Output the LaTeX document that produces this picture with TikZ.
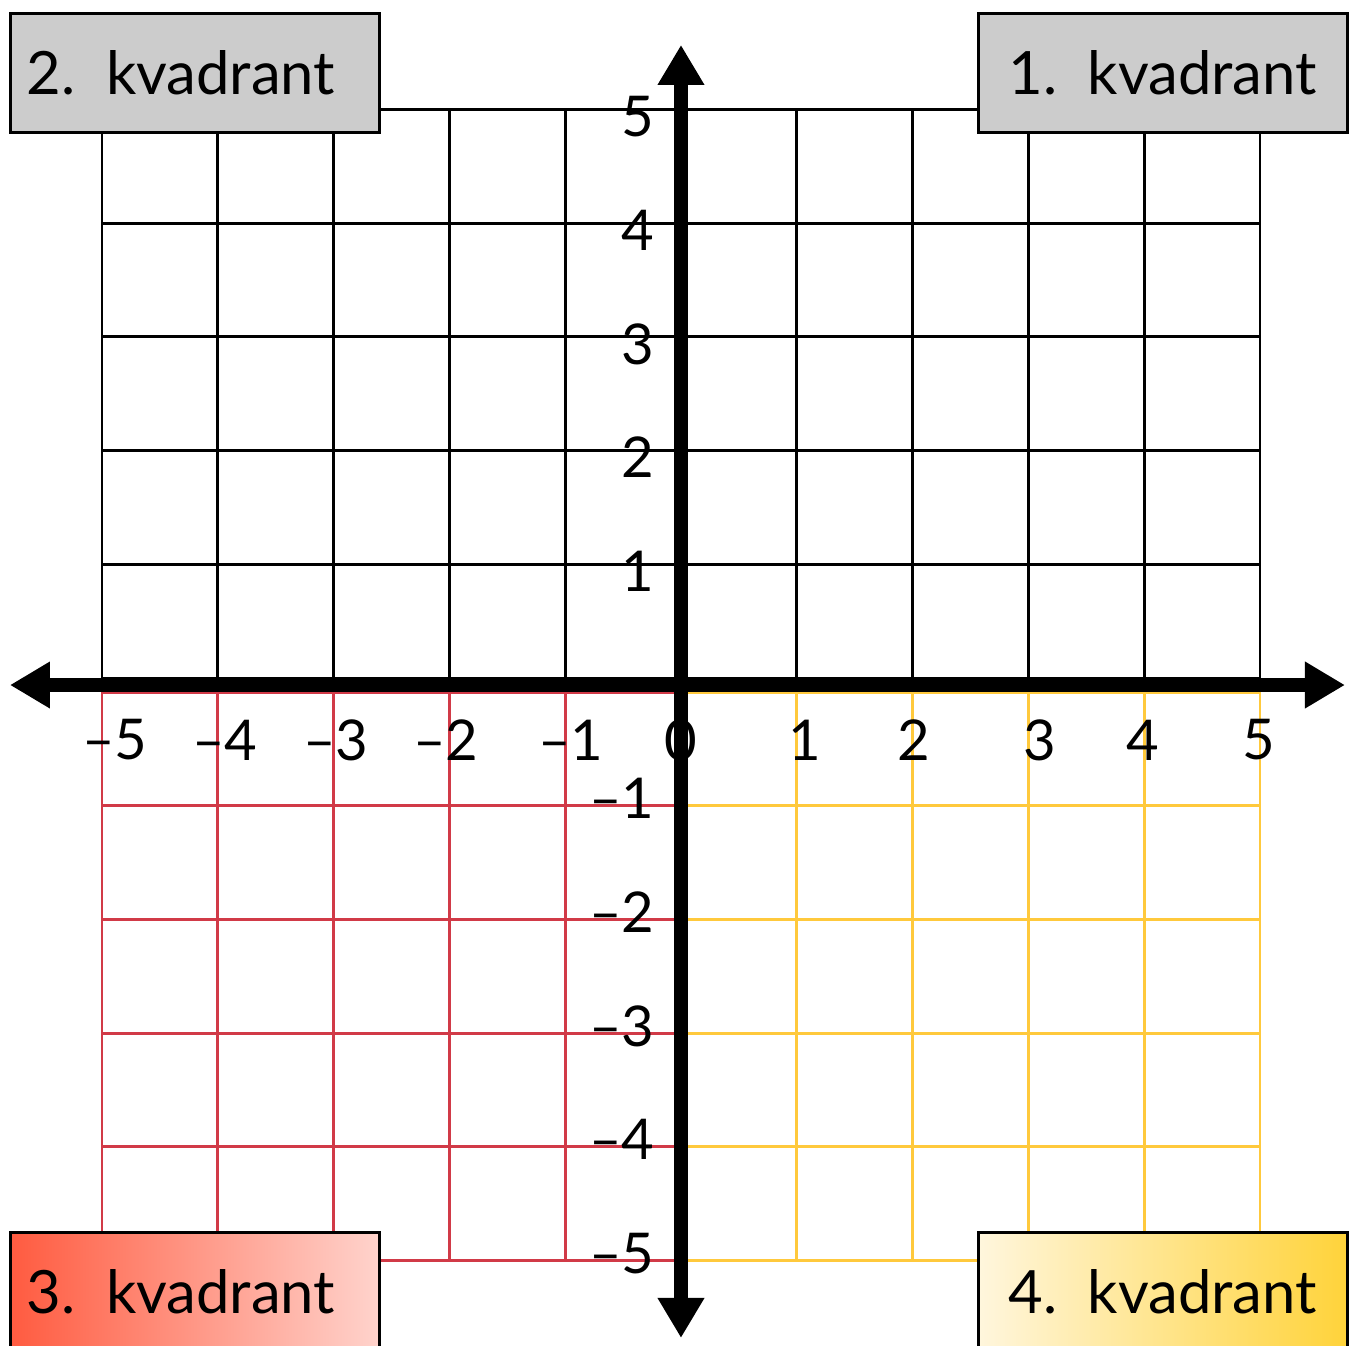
\documentclass[tikz,border=0pt]{standalone}
\usepackage{fontspec}
\setmainfont{Lato}
\usepackage{xcolor}
\definecolor{cGrid}{HTML}{000000}
\definecolor{cRed}{HTML}{D13A47}
\definecolor{cYellow}{HTML}{FFC93C}
\definecolor{cBoxGray}{HTML}{CCCCCC}
\definecolor{cRedL}{HTML}{FF5B40}
\definecolor{cRedR}{HTML}{FFD3CC}
\definecolor{cYelL}{HTML}{FFF6DD}
\definecolor{cYelR}{HTML}{FFD33A}
\usepackage{tikz}
\usetikzlibrary{arrows.meta}
\tikzset{
  grid-line/.style={line width=0.8pt,step=1},
  axis-line/.style={line width=4pt,
    {Triangle[length=4mm,width=4.4mm]}-{Triangle[length=4mm,width=4.4mm]}},
  quad-box/.style={draw=black,line width=0.8pt,anchor=north west,
    minimum width=3.69cm,minimum height=1.19cm,inner sep=0pt,
    font=\fontsize{17}{20}\selectfont},
  tick-label/.style={font=\fontsize{16}{19}\selectfont,inner sep=0pt},
}

\begin{document}
\begin{tikzpicture}[x=1.158cm,y=1.137cm]
  \useasboundingbox (-5.881,-5.805) rectangle (5.769,6.025);
  % ruter over og under aksen
  \draw[grid-line,draw=cGrid,yshift=0.062*1.137cm] (-5,0) grid (5,5);
  \draw[grid-line,draw=cRed,yshift=-0.062*1.137cm] (-5,-5) grid (0,0);
  \draw[grid-line,draw=cYellow,yshift=-0.062*1.137cm] (0,-5) grid (5,0);
  % akser
  \coordinate (x-lo) at (-5.795,0);
  \coordinate (x-hi) at (5.734,0);
  \coordinate (y-lo) at (0,-5.743);
  \coordinate (y-hi) at (0,5.63);
  \draw[axis-line] (x-lo) -- (x-hi);
  \draw[axis-line] (y-lo) -- (y-hi);
  % tall på aksene
  \foreach \v/\p in {-5/-4.89,-4/-3.94,-3/-2.98,-2/-2.03,-1/-0.95}
    \node[tick-label] (xl\v) at (\p,-0.484) {–\the\numexpr-\v\relax};
  \foreach \v/\p in {0/0,1/1.07,2/2.01,3/3.1,4/3.99,5/4.99}
    \node[tick-label] (xl\v) at (\p,-0.484) {\v};
  \foreach \v in {1,...,5}
    \node[tick-label,anchor=east] (yl\v) at (-0.225,\v) {\v};
  \foreach \v in {1,...,5}
    \node[tick-label,anchor=east] (yl-\v) at (-0.225,-\v) {–\v};
  % kvadrantbokser
  \node[quad-box,fill=cBoxGray] (q2) at (-5.803,5.919)
    {2.\ \ kvadrant\kern2.8mm};
  \node[quad-box,fill=cBoxGray] (q1) at (2.556,5.919) {1.\ \ kvadrant};
  \node[quad-box,left color=cRedL,right color=cRedR] (q3) at (-5.803,-4.802)
    {3.\ \ kvadrant\kern2.8mm};
  \node[quad-box,left color=cYelL,right color=cYelR] (q4) at (2.556,-4.802)
    {4.\ \ kvadrant};
\end{tikzpicture}
\end{document}
